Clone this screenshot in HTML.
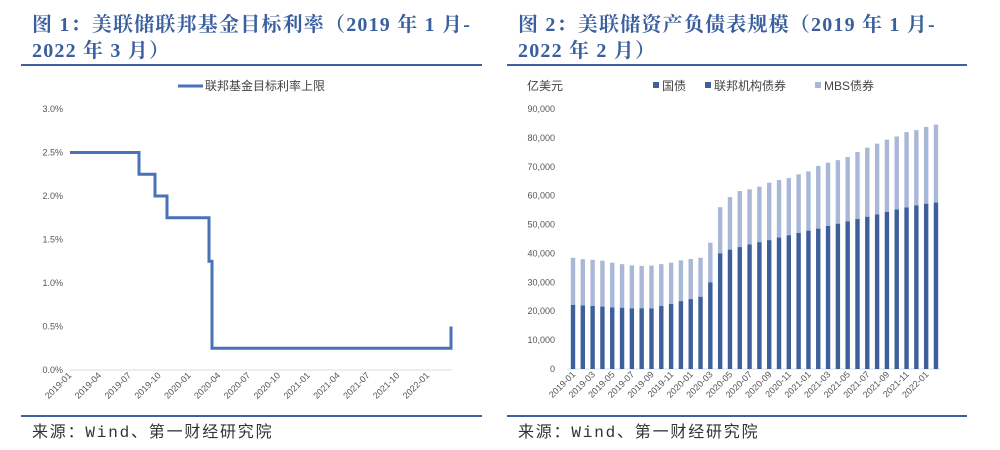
<!DOCTYPE html>
<html><head><meta charset="utf-8"><style>
body{margin:0;width:1000px;height:450px;background:#fff;overflow:hidden}
svg{display:block}
.t{font-family:"Liberation Serif","Noto Serif CJK SC",serif;font-weight:bold;fill:#3a5f9e;font-size:20px;letter-spacing:1.2px}
.s{font-family:"Liberation Mono","Noto Sans CJK SC",monospace;fill:#333;font-size:16px;letter-spacing:1.8px}
.a{font-family:"Liberation Sans","Noto Sans CJK SC",sans-serif;fill:#555;font-size:9px}
.l{font-family:"Liberation Sans","Noto Sans CJK SC",sans-serif;fill:#444;font-size:12px}
</style></head><body>
<svg id="g" width="1000" height="450" xmlns="http://www.w3.org/2000/svg">
<text class="t" x="32" y="31">图 1：美联储联邦基金目标利率（2019 年 1 月-</text>
<text class="t" x="32" y="57">2022 年 3 月）</text>
<text class="t" x="518" y="31">图 2：美联储资产负债表规模（2019 年 1 月-</text>
<text class="t" x="518" y="57">2022 年 2 月）</text>
<line x1="21" y1="65" x2="482" y2="65" stroke="#3f5f9f" stroke-width="2"/>
<line x1="507" y1="65" x2="967" y2="65" stroke="#3f5f9f" stroke-width="2"/>
<line x1="21" y1="416" x2="482" y2="416" stroke="#3f5f9f" stroke-width="2"/>
<line x1="507" y1="416" x2="967" y2="416" stroke="#3f5f9f" stroke-width="2"/>
<text class="s" x="32" y="437">来源：Wind、第一财经研究院</text>
<text class="s" x="518" y="437">来源：Wind、第一财经研究院</text>
<line x1="178" y1="86" x2="203" y2="86" stroke="#4a72b8" stroke-width="3"/>
<text class="l" x="205" y="90">联邦基金目标利率上限</text>
<g id="left"></g>
<text class="l" x="527" y="90">亿美元</text>
<rect x="653" y="82" width="6" height="6" fill="#3d5f9b"/><text class="l" x="662" y="90">国债</text>
<rect x="705" y="82" width="6" height="6" fill="#3d5f9b"/><text class="l" x="714" y="90">联邦机构债券</text>
<rect x="815" y="82" width="6" height="6" fill="#aab8d8"/><text class="l" x="824" y="90">MBS债券</text>
<g id="right"></g>
</svg>
<script>
var NS="http://www.w3.org/2000/svg";
function el(p,t,a,txt){var e=document.createElementNS(NS,t);for(var k in a)e.setAttribute(k,a[k]);if(txt!=null)e.textContent=txt;p.appendChild(e);return e;}
var L=document.getElementById("left");
var y0=370,ys=43.5;
for(var i=0;i<=6;i++){el(L,"text",{class:"a",x:63,y:y0-i*ys+3,"text-anchor":"end"},(i*0.5).toFixed(1)+"%");}
el(L,"line",{x1:70,y1:370,x2:452,y2:370,stroke:"#ddd"});
function X(m){return 70+m*9.94}
function Y(v){return y0-v*ys*2}
var labs=["2019-01","2019-04","2019-07","2019-10","2020-01","2020-04","2020-07","2020-10","2021-01","2021-04","2021-07","2021-10","2022-01"];
labs.forEach(function(s,i){var x=X(i*3)+2,y=376;el(L,"text",{class:"a",x:x,y:y,"text-anchor":"end",transform:"rotate(-45 "+x+" "+y+")"},s);});
var pts=[[70,2.5],[139,2.5],[139,2.25],[155,2.25],[155,2.0],[167,2.0],[167,1.75],[209,1.75],[209,1.25],[212,1.25],[212,0.25],[451,0.25],[451,0.5]];
el(L,"polyline",{points:pts.map(function(p){return p[0]+","+Y(p[1])}).join(" "),fill:"none",stroke:"#4a72b8","stroke-width":3});
var R=document.getElementById("right");
var b0=369,sc=260/90000;
for(var i=0;i<=9;i++){el(R,"text",{class:"a",x:555,y:b0-i*10000*sc+3,"text-anchor":"end"},i==0?"0":(i*10)+",000");}
el(R,"line",{x1:567,y1:369,x2:941,y2:369,stroke:"#ddd"});
var tot=[38.5,38,37.8,37.5,36.8,36.3,35.9,35.7,35.8,36.3,36.8,37.6,38.1,38.5,43.7,56,59.5,61.6,62.2,63.1,64.5,65.4,66.1,67.4,68.4,70.3,71.4,72.3,73.4,75.1,76.6,78,79.4,80.5,82,82.7,83.8,84.6];
var dk=[22.2,22,21.8,21.6,21.3,21.2,21,21,21,21.8,22.5,23.5,24.2,25,30,40,41.3,42.2,43.1,43.9,44.6,45.5,46.3,47.1,47.9,48.6,49.5,50.3,51.1,51.9,52.7,53.5,54.4,55.2,55.9,56.6,57.2,57.6];
var months=["01","02","03","04","05","06","07","08","09","10","11","12"];
for(var i=0;i<38;i++){var cx=573+i*9.81;
 el(R,"rect",{x:cx-2.2,y:b0-tot[i]*1000*sc,width:4.4,height:(tot[i]-dk[i])*1000*sc,fill:"#aab8d8"});
 el(R,"rect",{x:cx-2.2,y:b0-dk[i]*1000*sc,width:4.4,height:dk[i]*1000*sc,fill:"#3d5f9b"});
 if(i%2==0){var yr=2019+Math.floor(i/12);var s=yr+"-"+months[i%12];var x=cx+3,y=375;
 el(R,"text",{class:"a",x:x,y:y,"text-anchor":"end",transform:"rotate(-45 "+x+" "+y+")"},s);}
}
</script>
</body></html>
